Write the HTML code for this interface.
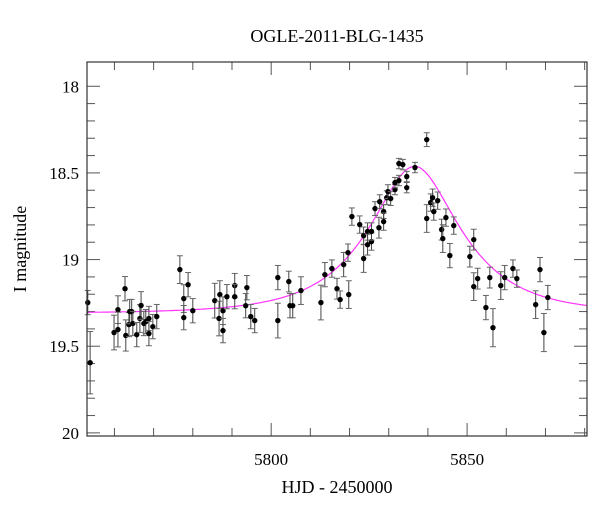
<!DOCTYPE html>
<html><head><meta charset="utf-8"><style>
body{margin:0;background:#fff}
svg{display:block;font-family:"Liberation Serif",serif}
</style></head><body>
<svg id="chart" width="600" height="512" viewBox="0 0 600 512" xmlns="http://www.w3.org/2000/svg">
<text x="337" y="42" text-anchor="middle" font-size="18">OGLE-2011-BLG-1435</text>
<text x="337" y="493" text-anchor="middle" font-size="18">HJD - 2450000</text>
<text transform="translate(26,249) rotate(-90)" text-anchor="middle" font-size="18">I magnitude</text>
<g id="ticks"></g>
<g id="curve"></g>
<g id="points"></g>
<rect x="87" y="62" width="500" height="374" fill="none" stroke="#333" stroke-width="1.2"/>
</svg>
<script>
const times=[5753.2,5753.8,5759.9,5760.9,5760.9,5762.7,5762.9,5763.7,5763.9,5764.4,5764.7,5765.7,5766.5,5766.8,5767.5,5768.0,5768.8,5768.8,5769.8,5770.8,5776.7,5777.7,5777.7,5778.8,5780.0,5785.6,5786.7,5786.9,5787.7,5787.7,5788.7,5790.7,5790.7,5793.8,5793.5,5794.8,5795.8,5801.7,5801.7,5804.5,5804.8,5805.5,5807.6,5812.7,5813.7,5815.5,5816.8,5817.6,5819.8,5818.5,5819.6,5820.6,5822.6,5823.6,5823.6,5824.6,5824.6,5825.6,5825.6,5826.5,5827.5,5827.7,5828.7,5828.7,5829.5,5829.8,5830.5,5831.6,5831.6,5832.6,5832.6,5833.6,5834.6,5834.6,5836.7,5839.7,5839.7,5840.7,5841.2,5841.5,5842.5,5843.5,5843.8,5844.6,5845.6,5846.6,5850.7,5851.7,5851.7,5852.7,5854.8,5855.8,5856.6,5858.6,5859.6,5861.7,5862.7,5867.5,5868.6,5869.6,5870.6];
const mags=[19.248,19.595,19.421,19.289,19.404,19.168,19.438,19.375,19.300,19.300,19.369,19.433,19.340,19.265,19.369,19.358,19.340,19.427,19.387,19.329,19.058,19.225,19.335,19.145,19.295,19.237,19.340,19.202,19.295,19.410,19.214,19.150,19.214,19.162,19.266,19.329,19.352,19.104,19.352,19.127,19.266,19.266,19.179,19.248,19.087,19.052,19.168,19.231,19.202,19.029,18.960,18.752,18.798,18.994,18.862,18.838,18.914,18.896,18.838,18.706,18.816,18.666,18.723,18.781,18.643,18.608,18.648,18.596,18.556,18.544,18.446,18.452,18.521,18.585,18.469,18.308,18.763,18.671,18.643,18.723,18.660,18.827,18.879,18.758,18.977,18.804,18.983,18.885,19.156,19.110,19.277,19.104,19.393,19.150,19.104,19.052,19.110,19.260,19.058,19.421,19.219];
const errs=[0.07,0.18,0.1,0.08,0.1,0.07,0.09,0.07,0.07,0.07,0.07,0.07,0.08,0.08,0.07,0.07,0.07,0.07,0.07,0.07,0.08,0.08,0.07,0.07,0.07,0.1,0.1,0.08,0.08,0.07,0.07,0.07,0.07,0.07,0.07,0.07,0.07,0.07,0.1,0.06,0.07,0.07,0.08,0.1,0.07,0.05,0.06,0.05,0.08,0.07,0.05,0.05,0.05,0.08,0.05,0.05,0.06,0.05,0.05,0.04,0.06,0.04,0.04,0.05,0.04,0.04,0.04,0.03,0.03,0.03,0.03,0.03,0.03,0.03,0.03,0.04,0.08,0.05,0.05,0.05,0.05,0.06,0.08,0.05,0.07,0.05,0.06,0.06,0.08,0.06,0.07,0.06,0.11,0.08,0.07,0.05,0.05,0.08,0.07,0.11,0.07];
const xTicks=[5800,5850];
const yTicks=[18,18.5,19,19.5,20];
const baseMag=19.31, t0=5836.6, tE=20, u0=0.5;

const X0=87,X1=587,Y0=62,Y1=436,TMIN=5753,TMAX=5880.6,MMIN=17.86,MMAX=20.018;
const sx=t=>X0+(t-TMIN)/(TMAX-TMIN)*(X1-X0);
const sy=m=>Y0+(m-MMIN)/(MMAX-MMIN)*(Y1-Y0);
const NS='http://www.w3.org/2000/svg';
function mk(tag,attrs,parent){const e=document.createElementNS(NS,tag);for(const k in attrs)e.setAttribute(k,attrs[k]);parent.appendChild(e);return e;}
const tg=document.getElementById('ticks');
for(let t=5760;t<=5880;t+=10){
  const major=t%50===0,L=major?13:8,x=sx(t);
  const a=mk('line',{x1:x,x2:x,y1:Y1,y2:Y1-L,stroke:'#555','stroke-width':1},tg);
  
  
  const b=mk('line',{x1:x,x2:x,y1:Y0,y2:Y0+L,stroke:'#555','stroke-width':1},tg);
  
  
}
xTicks.forEach(t=>{const e=mk('text',{x:sx(t),y:465,'text-anchor':'middle','font-size':17},tg);e.textContent=t;
  
  });
for(let i=0;i<=20;i++){
  const m=18+i*0.1,major=i%5===0,L=major?13:8,y=sy(m);
  const a=mk('line',{x1:X0,x2:X0+L,y1:y,y2:y,stroke:'#555','stroke-width':1},tg);
  
  
  const b=mk('line',{x1:X1,x2:X1-L,y1:y,y2:y,stroke:'#555','stroke-width':1},tg);
  
  
}
yTicks.forEach(m=>{const e=mk('text',{x:79,y:sy(m)+6,'text-anchor':'end','font-size':17},tg);e.textContent=m;
  
  });
// model curve
function model(t){const u=Math.sqrt(u0*u0+((t-t0)/tE)**2);const A=(u*u+2)/(u*Math.sqrt(u*u+4));return baseMag-2.5*Math.log10(A);}
let d='';for(let t=TMIN;t<=TMAX;t+=0.25){d+=(d?'L':'M')+sx(t).toFixed(1)+' '+sy(model(t)).toFixed(1);}
const cv=mk('path',{d:d,fill:'none',stroke:'#ff33ff','stroke-width':1.2},document.getElementById('curve'));


const pg=document.getElementById('points');
times.forEach((t,i)=>{
  const x=sx(t),y=sy(mags[i]),ya=sy(mags[i]-errs[i]),yb=sy(mags[i]+errs[i]);
  const g=mk('g',{},pg);
  
  
  mk('line',{x1:x,x2:x,y1:ya,y2:yb,stroke:'#444','stroke-width':1},g);
  mk('line',{x1:x-3,x2:x+3,y1:ya,y2:ya,stroke:'#666','stroke-width':1},g);
  mk('line',{x1:x-3,x2:x+3,y1:yb,y2:yb,stroke:'#666','stroke-width':1},g);
  mk('circle',{cx:x,cy:y,r:2.7,fill:'#000'},g);
});
</script>
</body></html>
